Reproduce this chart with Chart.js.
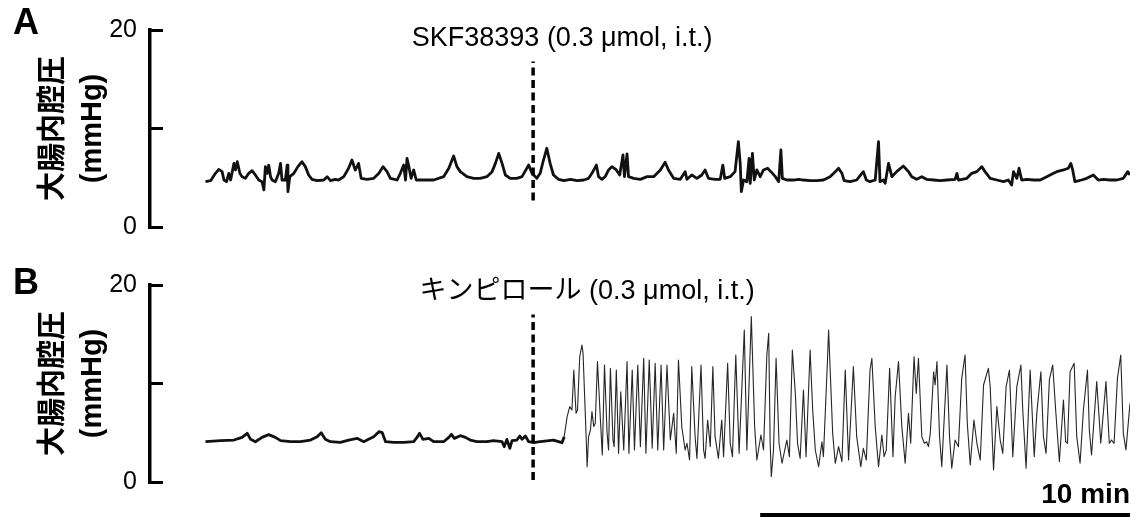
<!DOCTYPE html>
<html lang="ja">
<head>
<meta charset="UTF-8">
<title>大腸内腔圧</title>
<script src="https://cdn.jsdelivr.net/npm/chart.js@4"></script>
<style>
  body { margin: 0; background: #fff; }
  canvas { display: block; }
</style>
</head>
<body>
<canvas id="panelA" width="1137" height="255"></canvas>
<canvas id="panelB" width="1137" height="262"></canvas>
<script>
// --- DATA (time in min, pressure in mmHg) ---
const drugTime = 8.86;      // i.t. injection
const scaleBarLen = 10;     // min

// A: SKF38393
const timeA = [
  0.00, 0.14, 0.27, 0.36, 0.45, 0.50, 0.57, 0.63, 0.68, 0.77, 0.81, 0.86,
  0.93, 0.99, 1.08, 1.17, 1.26, 1.35, 1.44, 1.53, 1.58, 1.62, 1.67, 1.71,
  1.76, 1.80, 1.89, 1.98, 2.03, 2.07, 2.16, 2.21, 2.23, 2.28, 2.39, 2.50,
  2.61, 2.70, 2.79, 2.88, 3.02, 3.20, 3.29, 3.38, 3.51, 3.60, 3.74, 3.87,
  3.96, 4.05, 4.10, 4.14, 4.21, 4.37, 4.55, 4.69, 4.80, 4.91, 5.00, 5.18,
  5.27, 5.36, 5.41, 5.45, 5.50, 5.56, 5.63, 5.70, 5.90, 6.17, 6.44, 6.58,
  6.71, 6.80, 6.89, 7.07, 7.25, 7.43, 7.61, 7.75, 7.84, 7.93, 8.02, 8.11,
  8.24, 8.42, 8.56, 8.74, 8.83, 8.92,
  8.96, 9.05, 9.14, 9.23, 9.32, 9.41, 9.55, 9.69, 9.87, 10.05, 10.23, 10.36,
  10.45, 10.57, 10.63, 10.72, 10.81, 10.90, 10.99, 11.11, 11.20, 11.29, 11.33, 11.40,
  11.44, 11.58, 11.76, 11.94, 12.12, 12.30, 12.43, 12.52, 12.66, 12.84, 12.97, 13.02,
  13.15, 13.29, 13.42, 13.51, 13.60, 13.78, 13.92, 13.99, 14.04, 14.19, 14.32, 14.41,
  14.46, 14.49, 14.55, 14.64, 14.70, 14.73, 14.79, 14.84, 14.91, 15.00, 15.09, 15.20,
  15.29, 15.41, 15.50, 15.56, 15.60, 15.72, 15.90, 16.04, 16.17, 16.35, 16.53, 16.71,
  16.89, 17.03, 17.12,
  17.21, 17.27, 17.43, 17.61, 17.75, 17.79, 17.87, 17.97, 18.11, 18.20, 18.24, 18.33,
  18.38, 18.47, 18.56, 18.69, 18.87, 19.01, 19.10, 19.23, 19.37, 19.50, 19.69, 19.87,
  20.05, 20.27, 20.32, 20.36, 20.59, 20.72, 20.86, 20.99, 21.08, 21.22, 21.40, 21.58,
  21.71, 21.80, 21.85, 21.94, 22.00, 22.07, 22.21, 22.39, 22.57, 22.75, 22.93, 23.02,
  23.20, 23.33, 23.40, 23.45, 23.51, 23.69, 23.83, 24.01, 24.14, 24.28, 24.46, 24.64,
  24.82, 24.94, 25.00
];
const pressureA = [
  4.60, 4.70, 5.45, 5.85, 5.62, 4.77, 4.60, 5.45, 4.77, 6.46, 5.79, 6.63,
  5.45, 5.11, 4.94, 5.45, 5.72, 5.28, 4.77, 4.60, 3.76, 6.13, 5.45, 6.29,
  5.11, 4.77, 4.60, 5.45, 6.46, 4.77, 4.77, 6.29, 3.59, 5.11, 5.45, 6.13,
  6.63, 6.13, 5.28, 4.84, 4.70, 4.77, 5.11, 4.70, 4.84, 4.77, 5.11, 5.96,
  6.80, 5.79, 6.13, 6.46, 4.94, 4.84, 4.94, 5.45, 6.13, 5.62, 4.94, 4.77,
  5.45, 6.29, 4.77, 6.97, 6.13, 4.94, 5.79, 4.77, 4.77, 4.77, 5.11, 5.96,
  7.21, 6.13, 5.62, 5.11, 4.94, 4.94, 5.11, 5.62, 6.46, 7.48, 6.46, 5.28,
  4.94, 4.94, 5.11, 6.29, 5.45, 5.11,
  4.94, 5.45, 6.80, 7.99, 6.46, 5.28, 4.84, 4.70, 4.84, 4.70, 4.77, 4.94,
  5.45, 6.29, 5.11, 4.84, 5.11, 5.79, 6.13, 5.79, 5.28, 7.31, 5.11, 7.41,
  5.11, 4.94, 4.84, 5.11, 5.11, 5.79, 6.57, 5.79, 4.94, 4.84, 5.62, 4.84,
  5.28, 4.94, 5.28, 5.79, 4.94, 4.84, 4.84, 6.29, 4.94, 5.11, 5.62, 8.66,
  6.46, 3.59, 4.77, 4.60, 6.97, 4.43, 7.48, 4.77, 5.79, 5.11, 5.79, 5.96,
  5.62, 5.11, 4.60, 7.82, 4.94, 4.77, 4.77, 4.84, 4.77, 4.70, 4.70, 4.77,
  5.11, 5.62, 5.96,
  5.45, 4.70, 4.60, 4.77, 5.45, 5.62, 4.77, 4.60, 4.77, 8.66, 4.60, 4.77,
  4.43, 6.46, 5.11, 5.62, 6.19, 5.62, 5.11, 4.84, 5.11, 4.84, 4.77, 4.70,
  4.77, 4.84, 5.45, 4.77, 4.94, 5.45, 5.62, 6.13, 5.62, 4.94, 4.77, 4.60,
  4.77, 4.26, 5.62, 4.94, 5.96, 4.77, 4.84, 4.77, 4.77, 5.11, 5.45, 5.62,
  5.79, 5.96, 6.46, 5.79, 4.60, 4.77, 4.94, 5.28, 4.77, 4.84, 4.77, 4.77,
  4.94, 5.62, 5.28
];

// B: quinpirole
const timeB = [
  0.00, 0.41, 0.77, 0.99, 1.13, 1.22, 1.35, 1.53, 1.71, 1.89, 2.03, 2.30,
  2.57, 2.84, 3.02, 3.13, 3.24, 3.38, 3.65, 3.87, 4.10, 4.28, 4.41, 4.55,
  4.69, 4.78, 4.87, 5.09, 5.36, 5.63, 5.72, 5.79, 5.88, 6.04, 6.17, 6.44,
  6.58, 6.65, 6.73, 6.89, 7.03, 7.16, 7.34, 7.61, 7.79, 8.02, 8.08, 8.15,
  8.23, 8.29, 8.42, 8.50, 8.56, 8.65, 8.74, 8.87, 9.05, 9.41, 9.64, 9.70,
  9.78, 9.85, 9.91, 9.96, 10.02, 10.06, 10.12, 10.18, 10.21, 10.25, 10.30, 10.32,
  10.36, 10.41, 10.45, 10.50, 10.54, 10.60, 10.68, 10.73, 10.79, 10.86, 10.90, 10.95,
  11.02, 11.05, 11.11, 11.17, 11.23, 11.31, 11.40, 11.45, 11.54, 11.60, 11.69, 11.76,
  11.85, 11.91, 12.00, 12.08, 12.16, 12.23, 12.32, 12.39, 12.48, 12.57, 12.66, 12.73,
  12.79, 12.88, 12.97, 13.02, 13.09, 13.15, 13.24, 13.29, 13.40, 13.47, 13.51, 13.58,
  13.65, 13.72, 13.78, 13.87, 13.96, 14.01, 14.12, 14.19, 14.25, 14.34, 14.43, 14.57,
  14.64, 14.76, 14.85, 14.91, 15.02, 15.09, 15.18, 15.23, 15.27, 15.30, 15.36, 15.43,
  15.51, 15.59, 15.72, 15.79, 15.87, 15.95, 16.01, 16.08, 16.17, 16.24, 16.35, 16.42,
  16.49, 16.58, 16.67, 16.71, 16.82, 16.85, 16.96, 17.03, 17.12, 17.21, 17.30, 17.39,
  17.52, 17.61, 17.72, 17.79, 17.87, 17.97, 18.02, 18.11, 18.20, 18.29, 18.35, 18.41,
  18.50, 18.59, 18.65, 18.74, 18.83, 18.92, 19.01, 19.07, 19.16, 19.22, 19.28, 19.37,
  19.44, 19.50, 19.55, 19.60, 19.69, 19.73, 19.78, 19.85, 19.91, 20.05, 20.12, 20.18,
  20.27, 20.36, 20.45, 20.54, 20.60, 20.68, 20.78, 20.86, 20.95, 21.04, 21.17, 21.22,
  21.31, 21.40, 21.49, 21.56, 21.65, 21.74, 21.83, 21.94, 22.05, 22.10, 22.19, 22.30,
  22.41, 22.48, 22.59, 22.66, 22.73, 22.82, 22.91, 22.99, 23.09, 23.20, 23.26, 23.31,
  23.38, 23.49, 23.56, 23.65, 23.74, 23.85, 23.90, 23.96, 24.10, 24.21, 24.35, 24.44,
  24.50, 24.57, 24.66, 24.75, 24.82, 24.89, 25.00
];
const pressureB = [
  4.09, 4.20, 4.26, 4.53, 4.94, 4.33, 4.09, 4.53, 4.81, 4.53, 4.20, 4.09,
  4.09, 4.26, 4.60, 5.01, 4.33, 4.09, 4.03, 4.26, 4.43, 4.09, 4.33, 4.60,
  5.11, 5.01, 4.09, 4.03, 4.03, 4.09, 4.53, 4.94, 4.33, 4.43, 4.09, 4.09,
  4.53, 4.84, 4.43, 4.70, 4.53, 4.26, 4.09, 4.09, 4.20, 4.09, 3.59, 4.33,
  3.42, 4.20, 4.26, 4.67, 4.33, 4.67, 4.09, 3.99, 4.09, 4.26, 3.99, 4.60,
  6.63, 7.65, 7.31, 11.37, 6.97, 7.31, 12.72, 13.91, 13.06, 9.00, 3.93, 1.56,
  4.60, 5.28, 7.14, 5.62, 5.96, 12.22, 6.29, 2.74, 11.88, 4.94, 3.25, 11.54,
  4.26, 3.59, 11.37, 2.91, 9.17, 3.25, 12.22, 2.91, 11.37, 3.25, 11.88, 3.59,
  12.56, 2.91, 12.39, 3.42, 12.05, 3.25, 11.88, 3.25, 11.88, 4.26, 6.97, 2.91,
  12.39, 5.62, 3.25, 3.93, 2.23, 11.71, 4.60, 2.40, 11.88, 3.25, 2.40, 6.29,
  3.59, 11.71, 4.60, 2.40, 6.29, 2.57, 12.05, 3.93, 2.57, 12.89, 2.91, 15.43,
  3.25, 16.79, 5.62, 2.23, 4.77, 3.25, 12.89, 15.09, 3.93, 0.54, 3.25, 12.56,
  3.93, 1.90, 4.26, 2.57, 13.40, 9.00, 3.93, 2.40, 9.34, 2.57, 13.40, 7.31,
  3.25, 1.56, 4.09, 2.57, 12.39, 15.43, 4.94, 1.90, 3.59, 2.06, 11.37, 2.23,
  11.71, 4.60, 1.56, 3.42, 2.23, 11.37, 12.56, 5.62, 1.56, 4.77, 2.57, 3.25,
  11.54, 2.57, 8.66, 12.22, 5.62, 1.90, 6.97, 3.93, 12.72, 9.00, 12.56, 4.60,
  3.93, 4.09, 3.59, 4.94, 11.20, 9.85, 12.22, 4.60, 1.56, 11.88, 4.60, 1.39,
  4.26, 3.59, 10.52, 12.89, 5.96, 1.73, 6.29, 3.93, 2.23, 9.85, 11.54, 9.68,
  1.22, 7.65, 4.26, 2.91, 9.68, 11.37, 2.57, 9.68, 11.88, 7.31, 1.39, 11.37,
  2.57, 6.97, 11.20, 4.60, 2.91, 10.36, 11.88, 7.31, 2.06, 8.32, 4.09, 3.93,
  11.20, 12.05, 4.60, 1.90, 7.31, 11.37, 5.28, 2.74, 10.19, 3.93, 10.19, 3.93,
  4.26, 3.93, 10.52, 12.89, 4.94, 3.25, 7.99
];

// extent of the dashed injection marker (mmHg)
const markerA = [2.7, 16.8];
const markerB = [0.2, 17.0];
const burstStart = 9.7; // onset of the quinpirole contractions

const yTicks = [0, 10, 20];
const yLabels = ['0', '', '20'];

// --- CHART HELPERS ---
const SANS = '"Liberation Sans", Arial, "Noto Sans CJK JP", sans-serif';
const toPoints = (xs, ys) => xs.map((x, i) => ({ x, y: ys[i] }));

// panel letter, drug label and the time scale bar
const decor = {
  id: 'decor',
  afterDraw(chart, _args, o) {
    const { ctx } = chart;
    const x = chart.scales.x;
    ctx.save();
    ctx.fillStyle = '#000';
    ctx.textAlign = 'center';
    ctx.textBaseline = 'middle';
    ctx.font = 'bold 36px ' + SANS;
    ctx.fillText(o.letter, 26, o.letterY);
    ctx.font = '27px ' + SANS;
    ctx.fillText(o.drug, x.getPixelForValue(drugTime) + o.drugDx, o.drugY);
    if (o.scaleBar) {
      const x1 = x.getPixelForValue(x.max);
      const x0 = x.getPixelForValue(x.max - scaleBarLen);
      ctx.fillRect(x0, chart.height - 4, x1 - x0, 4);
      ctx.textAlign = 'right';
      ctx.textBaseline = 'alphabetic';
      ctx.font = 'bold 28px ' + SANS;
      ctx.fillText(scaleBarLen + ' min', x1, chart.height - 14);
    }
    ctx.restore();
  }
};

function makePanel(id, trace, marker, decorOpts, bottomPad) {
  return new Chart(document.getElementById(id), {
    type: 'line',
    data: {
      datasets: [
        {
          data: [{ x: drugTime, y: marker[0] }, { x: drugTime, y: marker[1] }],
          borderColor: '#000',
          borderWidth: 3.5,
          borderDash: [8, 4.5]
        },
        trace
      ]
    },
    options: {
      responsive: false,
      animation: false,
      devicePixelRatio: 1,
      layout: { padding: { left: 0, right: 7, top: 30, bottom: bottomPad } },
      elements: { point: { radius: 0 }, line: { tension: 0, borderJoinStyle: 'round' } },
      plugins: { legend: { display: false }, tooltip: { enabled: false }, decor: decorOpts },
      scales: {
        x: { type: 'linear', min: -1.5, max: 25, display: false },
        y: {
          min: 0, max: 20,
          afterFit(scale) {
            scale.width = 150;
            scale.paddingTop = 0;
            scale.paddingBottom = 0;
          },
          afterBuildTicks(scale) { scale.ticks = yTicks.map(v => ({ value: v })); },
          ticks: {
            color: '#000',
            font: { family: SANS, size: 25 },
            padding: 26,
            callback: (v) => yLabels[yTicks.indexOf(v)]
          },
          grid: {
            drawOnChartArea: false,
            drawTicks: true,
            tickLength: -13,
            tickWidth: 3,
            tickColor: '#000'
          },
          border: { display: true, color: '#000', width: 3.5 },
          title: {
            display: true,
            text: ['大腸内腔圧', '(mmHg)'],
            color: '#000',
            font: { family: SANS, size: 29, weight: 'bold', lineHeight: 1.35 },
            padding: { top: 34, bottom: 0 }
          }
        }
      }
    },
    plugins: [decor]
  });
}

// --- DRAW ---
makePanel('panelA', {
  data: toPoints(timeA, pressureA),
  borderColor: '#111',
  borderWidth: 2.8
}, markerA, {
  letter: 'A', letterY: 24,
  drug: 'SKF38393 (0.3 μmol, i.t.)', drugDx: 29, drugY: 39
}, 28);

makePanel('panelB', {
  data: toPoints(timeB, pressureB),
  borderColor: '#111',
  borderWidth: 2.8,
  segment: {
    borderWidth: c => c.p0.parsed.x >= burstStart ? 1.1 : 2.8,
    borderColor: c => c.p0.parsed.x >= burstStart ? '#262626' : '#111'
  }
}, markerB, {
  letter: 'B', letterY: 29,
  drug: 'キンピロール (0.3 μmol, i.t.)', drugDx: 54, drugY: 37,
  scaleBar: true
}, 35);
</script>
</body>
</html>
